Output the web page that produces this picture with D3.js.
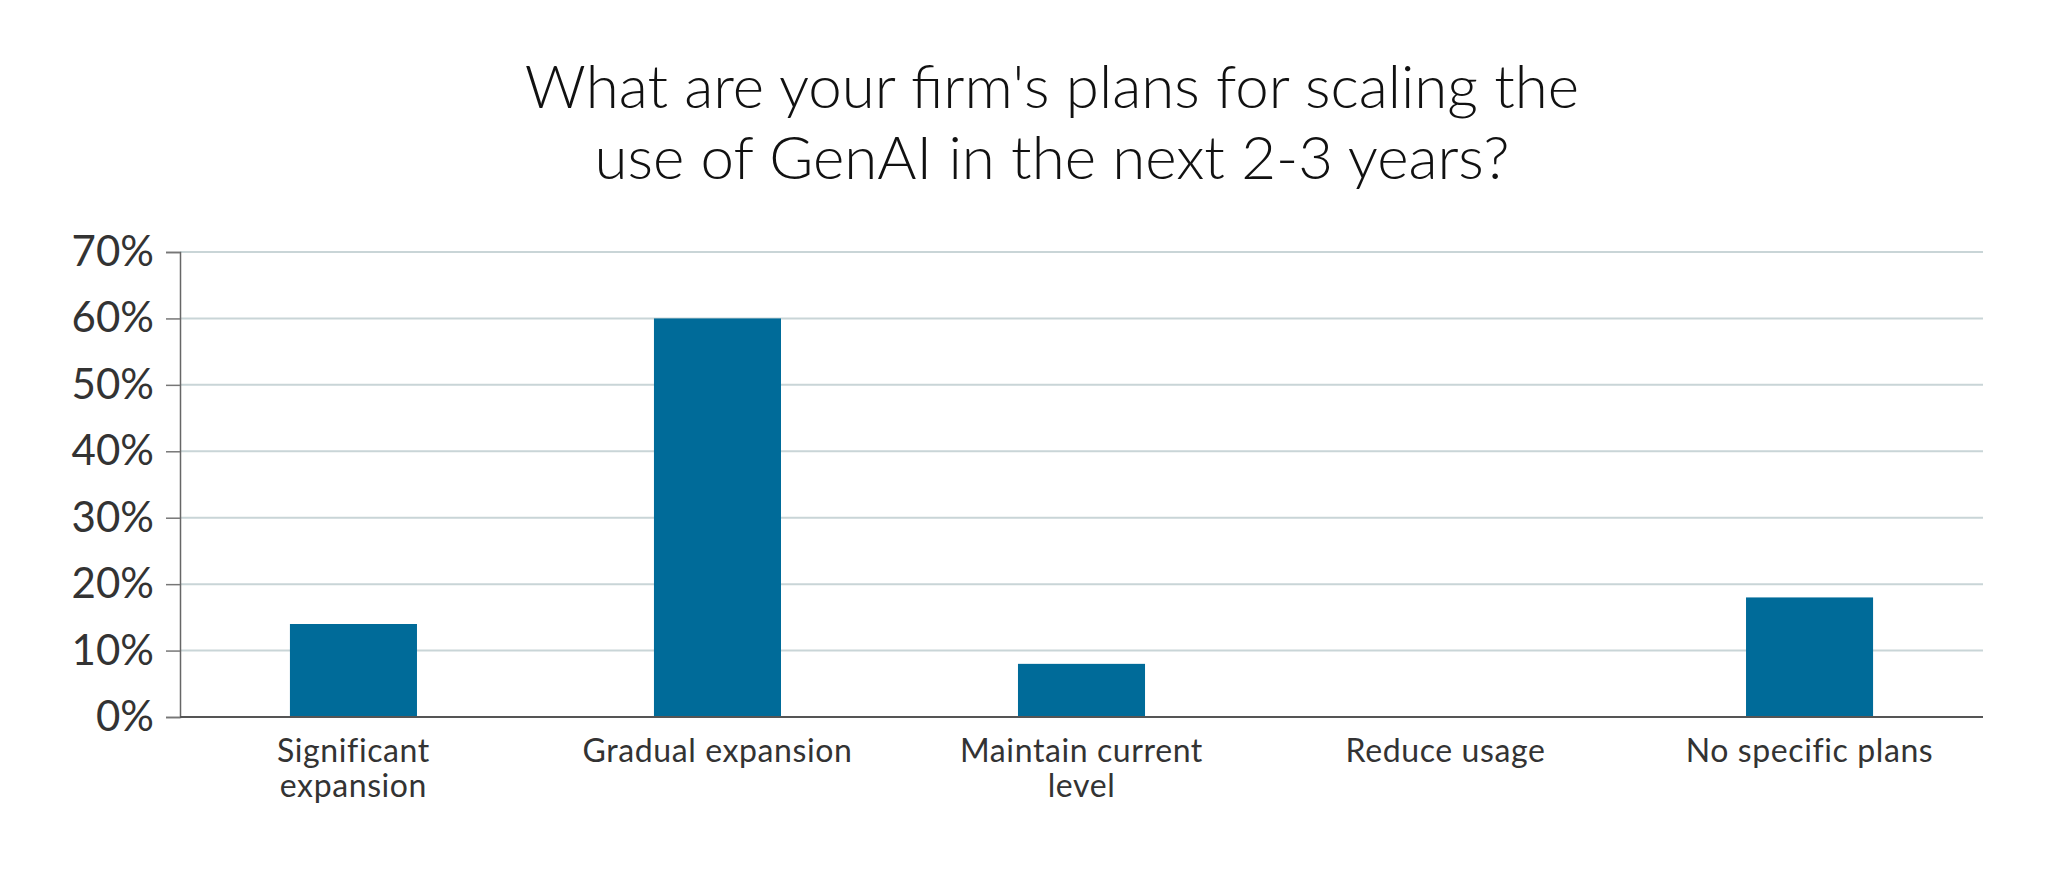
<!DOCTYPE html>
<html>
<head>
<meta charset="utf-8">
<script src="https://cdn.jsdelivr.net/npm/d3@7"></script>
<style>
  html, body { margin: 0; padding: 0; background: #fff; }
  svg { display: block; font-family: Lato, "Open Sans", sans-serif; }
</style>
</head>
<body>
<svg id="chart"></svg>
<script>
const titleLines = ["What are your firm's plans for scaling the", "use of GenAI in the next 2-3 years?"];
const categories = ["Significant expansion", "Gradual expansion", "Maintain current level", "Reduce usage", "No specific plans"];
const categoryLines = [["Significant", "expansion"], ["Gradual expansion"], ["Maintain current", "level"], ["Reduce usage"], ["No specific plans"]];
const values = [14, 60, 8, 0, 18];
const yTicks = [0, 10, 20, 30, 40, 50, 60, 70];

const W = 2050, H = 871;
const margin = { top: 252, right: 67, bottom: 154, left: 180 };
const width = W - margin.left - margin.right;
const height = H - margin.top - margin.bottom;

const svg = d3.select('#chart').attr('width', W).attr('height', H);

// title
svg.append('text')
  .attr('x', 1052)
  .attr('text-anchor', 'middle')
  .style('font-size', '60px')
  .style('font-weight', 300)
  .attr('fill', '#111')
  .selectAll('tspan')
  .data(titleLines)
  .enter()
  .append('tspan')
  .attr('x', 1052)
  .attr('y', (d, i) => 108 + i * 71)
  .text(d => d);

const g = svg.append('g').attr('transform', `translate(${margin.left},${margin.top})`);

const xScale = d3.scaleBand()
  .domain(categories)
  .range([0, width])
  .paddingInner(0.651)
  .paddingOuter(0.302);

const yScale = d3.scaleLinear()
  .domain([0, 70])
  .range([height, 0]);

// gridlines
g.append('g')
  .selectAll('line')
  .data(yTicks.filter(d => d > 0))
  .enter()
  .append('line')
  .attr('x1', 0)
  .attr('x2', width)
  .attr('y1', d => yScale(d))
  .attr('y2', d => yScale(d))
  .attr('stroke', '#c9d5d7')
  .attr('stroke-width', 2);

// bars
g.append('g')
  .selectAll('rect')
  .data(values)
  .enter()
  .append('rect')
  .attr('x', (d, i) => xScale(categories[i]))
  .attr('y', d => yScale(d))
  .attr('width', xScale.bandwidth())
  .attr('height', d => height - yScale(d))
  .attr('fill', '#006b99');

// y axis
const yAxis = g.append('g')
  .call(d3.axisLeft(yScale).tickValues(yTicks).tickSize(14).tickPadding(12).tickFormat(d => `${d}%`));
yAxis.select('.domain').attr('stroke', '#666').attr('stroke-width', 1.5);
yAxis.selectAll('.tick line').attr('stroke', '#777').attr('stroke-width', 1.5);
yAxis.selectAll('.tick text')
  .style('font-size', '42px')
  .style('font-family', 'Lato, sans-serif')
  .attr('fill', '#333');

// x axis baseline
g.append('line')
  .attr('x1', 0)
  .attr('x2', width)
  .attr('y1', height)
  .attr('y2', height)
  .attr('stroke', '#555')
  .attr('stroke-width', 2);

// x labels
g.append('g')
  .selectAll('text')
  .data(categories)
  .enter()
  .append('text')
  .attr('text-anchor', 'middle')
  .style('font-size', '32px')
  .style('letter-spacing', '0.6px')
  .attr('fill', '#333')
  .each(function(d, i) {
    d3.select(this).selectAll('tspan')
      .data(categoryLines[i])
      .enter()
      .append('tspan')
      .attr('x', xScale(d) + xScale.bandwidth() / 2)
      .attr('y', (t, j) => height + 45 + j * 35)
      .text(t => t);
  });
</script>
</body>
</html>
